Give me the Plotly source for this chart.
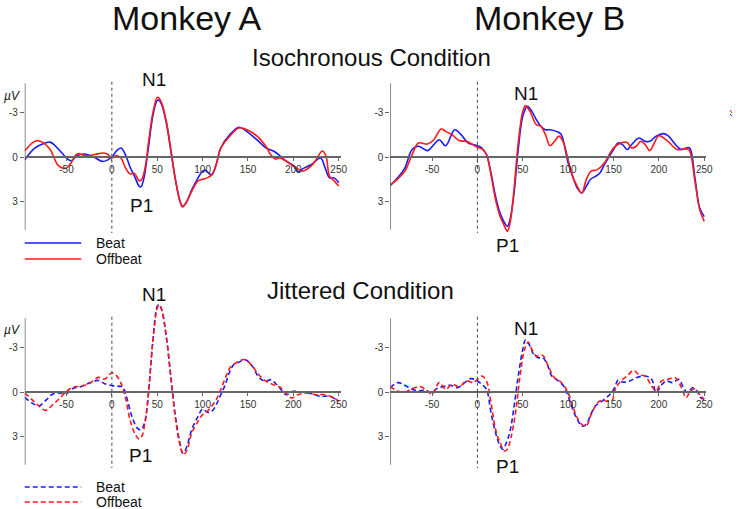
import plotly.graph_objects as go

W, H = 743, 509

# ---------------- data (time in ms, amplitude in µV; negative plotted up) ----------------
# Monkey A, isochronous
a_iso_beat_t = [-96, -85, -75, -68, -60, -50, -45, -38, -30, -20, -10, 0, 5, 10, 15, 20, 25, 30, 32, 35, 40, 45, 50, 52, 55, 60, 65, 70, 75, 78, 82, 88, 95, 100, 103, 110, 115, 120, 130, 140, 150, 160, 170, 178, 185, 190, 200, 205, 210, 220, 230, 235, 240, 245, 250]
a_iso_beat_v = [0.18, -0.6, -0.9, -1.0, -0.6, 0.07, 0.25, -0.1, -0.2, 0.0, 0.3, 0.0, -0.4, -0.6, -0.15, 0.67, 1.3, 1.95, 2.0, 1.5, -0.5, -2.7, -3.8, -3.8, -3.5, -2.3, -0.4, 1.5, 2.95, 3.3, 3.05, 2.2, 1.4, 0.95, 0.9, 1.2, 0.5, -0.6, -1.5, -2.0, -1.65, -1.15, -0.6, -0.4, -0.1, 0.18, 0.58, 1.0, 0.8, 0.5, 0.07, 0.73, 1.4, 1.4, 1.73]
a_iso_off_t = [-96, -88, -82, -75, -68, -60, -55, -50, -45, -38, -30, -20, -10, -5, 0, 5, 10, 15, 20, 25, 30, 33, 37, 40, 45, 50, 52, 55, 60, 65, 70, 75, 78, 82, 88, 95, 100, 105, 110, 115, 120, 130, 140, 150, 160, 170, 175, 180, 185, 195, 205, 210, 220, 225, 232, 236, 240, 245, 250]
a_iso_off_v = [-0.4, -0.93, -1.1, -0.93, -0.5, 0.5, 0.73, 0.73, 0.4, -0.22, -0.1, -0.15, -0.27, -0.2, 0.07, -0.1, 0.07, 0.73, 1.13, 1.1, 1.6, 1.5, 0.6, -0.8, -2.9, -4.0, -3.95, -3.6, -2.4, -0.5, 1.5, 2.95, 3.35, 3.05, 2.3, 1.6, 1.5, 1.4, 1.2, 0.5, -0.6, -1.4, -1.95, -1.8, -1.4, -0.7, -0.15, 0.13, 0.07, 0.4, 0.8, 0.95, 0.58, 0.18, -0.4, -0.05, 1.3, 1.6, 1.95]

# Monkey B, isochronous
b_iso_beat_t = [-96, -88, -80, -72, -65, -55, -48, -42, -35, -25, -18, -10, 0, 5, 10, 15, 20, 25, 30, 33, 36, 40, 45, 50, 55, 60, 65, 70, 75, 80, 87, 92, 100, 105, 110, 115, 120, 125, 130, 135, 140, 150, 155, 160, 165, 170, 178, 185, 190, 197, 205, 210, 220, 225, 230, 234, 240, 245, 250]
b_iso_beat_v = [1.92, 1.4, 0.74, -0.5, -0.72, -0.43, -0.83, -1.16, -0.76, -1.83, -1.5, -0.94, -0.76, -0.6, -0.16, 1.07, 2.64, 3.76, 4.43, 4.65, 4.2, 2.64, -0.5, -2.73, -3.4, -3.06, -2.5, -2.06, -1.83, -1.83, -1.72, -1.54, 0.4, 1.3, 2.08, 2.42, 1.97, 1.48, 1.3, 1.07, 0.51, -0.5, -0.94, -0.83, -0.5, -0.83, -1.27, -1.05, -1.05, -1.4, -1.57, -1.43, -0.72, -0.5, -0.6, -0.6, 1.52, 3.42, 4.0]
b_iso_off_t = [-96, -88, -80, -72, -65, -55, -48, -40, -35, -28, -20, -12, -5, 0, 5, 10, 15, 20, 25, 30, 33, 36, 40, 45, 50, 53, 58, 65, 70, 75, 80, 85, 90, 95, 100, 105, 110, 115, 120, 125, 132, 140, 150, 158, 165, 170, 175, 180, 185, 190, 195, 200, 210, 220, 228, 233, 240, 245, 250]
b_iso_off_v = [1.86, 1.48, 0.96, -0.16, -0.94, -0.87, -1.16, -1.88, -1.72, -1.5, -1.1, -1.05, -0.83, -0.65, -0.54, -0.16, 1.19, 2.86, 3.98, 4.65, 4.99, 4.43, 2.42, -0.94, -3.06, -3.45, -3.06, -2.17, -2.06, -1.5, -0.76, -1.05, -1.4, -0.94, 0.18, 1.3, 1.97, 2.42, 1.52, 0.96, 0.85, 0.4, -0.6, -0.94, -0.98, -0.6, -0.72, -1.05, -0.83, -0.43, -0.94, -1.43, -1.05, -0.5, -0.54, -0.5, 1.74, 3.53, 4.32]

# Monkey A, jittered
a_jit_beat_t = [-96, -88, -80, -72, -65, -58, -50, -42, -35, -25, -15, -8, 0, 8, 12, 17, 22, 28, 32, 36, 40, 45, 50, 52, 55, 60, 65, 70, 75, 78, 82, 88, 95, 100, 105, 110, 115, 120, 125, 130, 135, 140, 147, 155, 160, 165, 170, 175, 180, 185, 192, 200, 210, 220, 230, 240, 250]
a_jit_beat_v = [0.36, 0.74, 0.92, 0.51, 0.13, 0.07, 0.11, -0.27, -0.34, -0.6, -0.78, -0.56, -0.43, -0.38, -0.34, 0.51, 1.63, 2.42, 2.53, 2.08, 0.29, -3.3, -5.75, -5.86, -5.5, -3.7, -1.05, 1.63, 3.42, 4.1, 3.76, 2.53, 1.63, 1.14, 1.36, 1.3, 0.85, 0.18, -0.49, -1.39, -1.88, -2.0, -2.17, -1.72, -1.16, -0.83, -0.72, -0.83, -0.6, -0.27, 0.18, -0.04, 0.02, 0.11, 0.29, 0.29, 0.63]
a_jit_off_t = [-96, -88, -80, -73, -65, -57, -50, -42, -35, -25, -15, -8, 0, 5, 10, 15, 20, 25, 30, 33, 37, 40, 45, 50, 52, 55, 60, 65, 70, 75, 79, 83, 88, 95, 100, 105, 110, 115, 120, 125, 130, 140, 147, 155, 162, 170, 178, 185, 192, 198, 205, 215, 225, 235, 245, 250]
a_jit_off_v = [0.07, 0.51, 0.96, 1.23, 0.85, 0.4, -0.04, -0.34, -0.38, -0.56, -0.98, -0.87, -1.28, -1.1, -0.6, 0.4, 1.86, 2.75, 3.15, 2.98, 1.86, 0.29, -3.3, -5.64, -5.86, -5.5, -3.7, -0.94, 1.74, 3.53, 4.2, 3.87, 2.75, 1.97, 1.52, 1.3, 0.96, 0.51, -0.16, -0.94, -1.61, -2.06, -2.17, -1.72, -1.16, -0.72, -0.49, -0.34, 0.07, 0.4, 0.18, 0.07, 0.18, 0.18, 0.4, 0.63]

# Monkey B, jittered
b_jit_beat_t = [-96, -88, -80, -72, -65, -58, -50, -45, -38, -30, -22, -15, -8, -3, 0, 5, 10, 15, 20, 25, 28, 32, 36, 40, 45, 50, 53, 57, 62, 67, 72, 77, 82, 88, 95, 100, 105, 110, 115, 120, 125, 130, 135, 142, 148, 152, 155, 160, 168, 175, 185, 192, 197, 202, 208, 215, 222, 228, 232, 237, 242, 246, 250]
b_jit_beat_v = [-0.29, -0.63, -0.45, -0.18, -0.07, -0.13, 0.04, -0.22, -0.36, -0.45, -0.29, -0.58, -0.89, -0.85, -0.74, -0.51, -0.18, 1.39, 2.73, 3.62, 3.85, 3.4, 2.62, 1.16, -1.07, -2.86, -3.49, -3.2, -2.53, -2.3, -2.3, -1.86, -1.07, -0.8, -0.4, 0.27, 1.16, 1.83, 2.28, 2.17, 1.5, 0.94, 0.72, 0.38, 0.04, -0.4, -0.8, -0.67, -0.74, -0.96, -1.07, -0.85, 0.04, -0.4, -0.74, -0.63, -0.85, -0.18, 0.04, -0.29, -0.07, 0.38, 0.49]
b_jit_off_t = [-96, -88, -80, -72, -63, -55, -50, -42, -35, -28, -20, -12, -5, 0, 5, 10, 15, 20, 25, 30, 33, 37, 42, 47, 52, 56, 60, 65, 72, 78, 85, 92, 100, 105, 110, 115, 120, 125, 130, 135, 142, 148, 152, 158, 165, 172, 178, 185, 192, 197, 203, 210, 218, 225, 230, 235, 240, 245, 250]
b_jit_off_v = [-0.36, -0.07, 0.0, -0.22, -0.36, -0.07, 0.16, -0.63, -0.18, -0.51, -0.36, -0.74, -0.63, -0.85, -1.07, -0.74, 0.72, 2.5, 3.4, 3.96, 3.85, 3.06, 1.39, -1.07, -2.86, -3.36, -2.86, -2.42, -2.46, -1.74, -0.96, -0.67, 0.04, 0.94, 1.72, 2.17, 2.28, 1.57, 0.94, 0.6, 0.6, 0.6, -0.18, -0.74, -1.07, -1.45, -1.16, -1.07, -0.4, -0.07, -0.74, -0.85, -0.96, -0.29, 0.38, -0.07, -0.22, 0.16, 0.49]

x_tickvals = [-50, 0, 50, 100, 150, 200, 250]
x_ticktext = ["-50", "0", "50", "100", "150", "200", "250"]
y_tickvals = [-3, 0, 3]
y_ticktext = ["-3", "0", "3"]

col_titles = ["Monkey A", "Monkey B"]
row_titles = ["Isochronous Condition", "Jittered Condition"]
series_names = ["Beat", "Offbeat"]

# ---------------- geometry ----------------
BLUE = "#1a1aff"
RED = "#ff1a1a"
AXC = "#666666"
FONT = "Liberation Sans, Arial, sans-serif"
DASH = "5px,3px"

XR = [-96, 252]
PX_PER_MS = 0.916
PX_PER_UV = 14.9
YR = [5.6, -6.1]           # reversed: negative up
col_left_px = [25, 394]
row_zero_px = [157, 392]

def px_x(p):
    return p / W

def px_y(p):
    return 1 - p / H

fig = go.Figure()

panels = [
    (0, 0, a_iso_beat_t, a_iso_beat_v, a_iso_off_t, a_iso_off_v, "solid"),
    (0, 1, b_iso_beat_t, b_iso_beat_v, b_iso_off_t, b_iso_off_v, "solid"),
    (1, 0, a_jit_beat_t, a_jit_beat_v, a_jit_off_t, a_jit_off_v, DASH),
    (1, 1, b_jit_beat_t, b_jit_beat_v, b_jit_off_t, b_jit_off_v, DASH),
]

shapes = []
annotations = []
for i, (r, c, bt, bv, ot, ov, dash) in enumerate(panels):
    n = i + 1
    xa = "x" if n == 1 else f"x{n}"
    ya = "y" if n == 1 else f"y{n}"
    x0 = col_left_px[c]
    x1 = x0 + (XR[1] - XR[0]) * PX_PER_MS
    z = row_zero_px[r]
    ytop = z + YR[1] * PX_PER_UV
    ybot = z + YR[0] * PX_PER_UV
    key = "" if n == 1 else str(n)
    fig.update_layout(**{
        f"xaxis{key}": dict(domain=[px_x(x0), px_x(x1)], range=XR, anchor="free",
                            position=px_y(z), showline=True, linecolor=AXC, linewidth=1.5,
                            ticks="outside", ticklen=3, tickcolor=AXC, tickwidth=1.2,
                            tickvals=x_tickvals, ticktext=x_ticktext, showgrid=False,
                            zeroline=False, tickfont=dict(size=10, color="#333", family=FONT)),
        f"yaxis{key}": dict(domain=[px_y(ybot), px_y(ytop)], range=YR, anchor=xa,
                            showline=False, ticks="outside", ticklen=4, tickcolor=AXC,
                            tickvals=y_tickvals, ticktext=y_ticktext, showgrid=False,
                            zeroline=False, tickfont=dict(size=10, color="#333", family=FONT)),
    })
    # y-axis line and stimulus-onset dotted line
    shapes.append(dict(type="line", xref=xa, yref=ya, x0=XR[0], x1=XR[0], y0=-4.95, y1=4.88,
                       line=dict(color=AXC, width=1.5)))
    shapes.append(dict(type="line", xref=xa, yref=ya, x0=0, x1=0, y0=-5.05, y1=5.1,
                       line=dict(color="#444", width=1, dash="dot")))
    fig.add_trace(go.Scatter(x=bt, y=bv, mode="lines", xaxis=xa, yaxis=ya,
                             line=dict(color=BLUE, width=1.6, dash=dash, shape="spline", smoothing=1.0),
                             name=series_names[0], showlegend=False))
    fig.add_trace(go.Scatter(x=ot, y=ov, mode="lines", xaxis=xa, yaxis=ya,
                             line=dict(color=RED, width=1.6, dash=dash, shape="spline", smoothing=1.0),
                             name=series_names[1], showlegend=False))

def ann(text, xp, yp, size, italic=False, xanchor="center"):
    annotations.append(dict(text=f"<i>{text}</i>" if italic else text, x=px_x(xp), y=px_y(yp),
                            xref="paper", yref="paper", showarrow=False, xanchor=xanchor,
                            yanchor="middle", font=dict(size=size, color="#111", family=FONT)))

# column / row titles
ann(col_titles[0], 189, 18, 34)
ann(col_titles[1], 555, 18, 34)
ann(row_titles[0], 375, 58, 24)
ann(row_titles[1], 364, 290, 24)

# peak labels
for (xp, yp) in [(155, 79), (531, 93), (155, 294), (531, 328)]:
    ann("N1", xp, yp, 19)
for (xp, yp) in [(143, 206), (512, 245), (142, 455), (512, 466)]:
    ann("P1", xp, yp, 19)

# µV labels
ann("µV", 12, 96, 12, italic=True)
ann("µV", 12, 330, 12, italic=True)

# legends
for ys, dash in [((243, 259), "solid"), ((487, 502), DASH)]:
    for yy, colr, name in zip(ys, (BLUE, RED), series_names):
        shapes.append(dict(type="line", xref="paper", yref="paper", x0=px_x(25), x1=px_x(82),
                           y0=px_y(yy), y1=px_y(yy), line=dict(color=colr, width=1.5, dash=dash)))
        ann(name, 95, yy, 14, xanchor="left")

# small cropped marks at right edge
shapes.append(dict(type="line", xref="paper", yref="paper", x0=px_x(737), x1=px_x(739),
                   y0=px_y(110), y1=px_y(113), line=dict(color=RED, width=1)))
shapes.append(dict(type="line", xref="paper", yref="paper", x0=px_x(737), x1=px_x(739),
                   y0=px_y(114), y1=px_y(116), line=dict(color=BLUE, width=1)))

fig.update_layout(width=W, height=H, margin=dict(l=0, r=0, t=0, b=0),
                  paper_bgcolor="white", plot_bgcolor="rgba(0,0,0,0)",
                  shapes=shapes, annotations=annotations, showlegend=False,
                  font=dict(family=FONT))

fig.write_html("out.html", config={"displayModeBar": False},
               post_script="document.body.style.margin='0';document.body.style.overflow='hidden';")
